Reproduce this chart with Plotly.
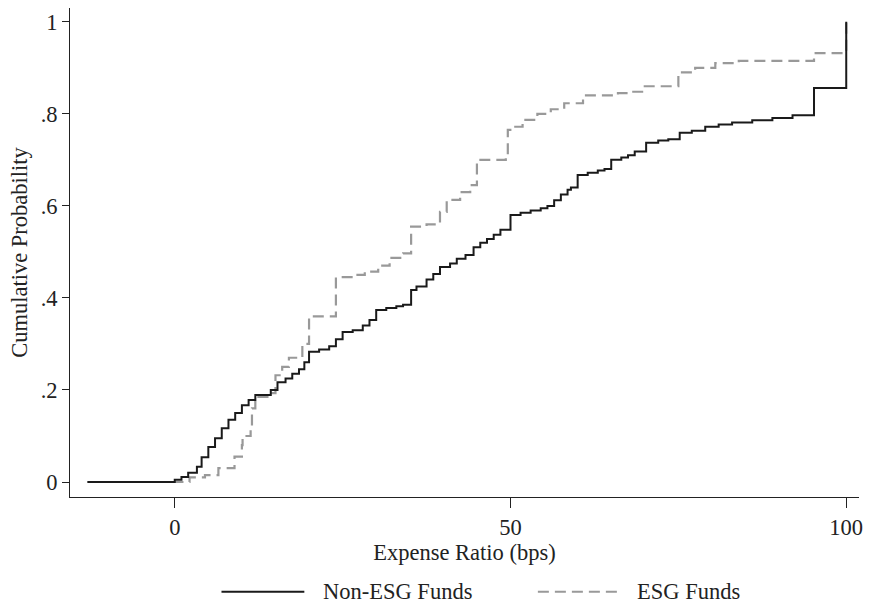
import plotly.graph_objects as go

# Non-ESG funds: empirical CDF step points (expense ratio in bps, cumulative probability)
non_esg_x = [-13, 0, 1.0, 2.0, 3.3, 4.0, 5.0, 6.0, 7.0, 8.0, 9.0, 10.0, 11.0, 12.0, 14.3, 15.3,
             16.5, 17.5, 18.5, 19.3, 20.0, 21.5, 23.0, 24.0, 25.0, 26.5, 28.0, 29.0, 30.0, 31.5,
             33.0, 34.0, 35.2, 36.0, 37.5, 38.5, 39.5, 41.0, 42.0, 43.3, 44.5, 45.5, 46.5, 47.5,
             48.5, 50.0, 51.5, 53.0, 54.5, 55.5, 56.5, 57.5, 58.5, 59.0, 60.0, 61.5, 63.0, 64.0,
             65.0, 66.5, 67.5, 68.5, 70.2, 72.0, 73.5, 75.2, 77.0, 79.0, 81.0, 83.0, 86.0, 89.0,
             92.0, 95.2, 100.0]
non_esg_y = [0, 0.005, 0.011, 0.02, 0.033, 0.054, 0.076, 0.095, 0.117, 0.135, 0.15, 0.167, 0.178,
             0.189, 0.2, 0.217, 0.225, 0.235, 0.245, 0.26, 0.283, 0.288, 0.295, 0.31, 0.326, 0.33,
             0.34, 0.352, 0.374, 0.378, 0.382, 0.385, 0.417, 0.425, 0.44, 0.452, 0.467, 0.475,
             0.485, 0.493, 0.51, 0.52, 0.528, 0.537, 0.548, 0.58, 0.585, 0.59, 0.595, 0.6, 0.612,
             0.625, 0.635, 0.64, 0.667, 0.672, 0.677, 0.68, 0.7, 0.705, 0.71, 0.718, 0.737, 0.742,
             0.745, 0.759, 0.763, 0.772, 0.777, 0.781, 0.786, 0.791, 0.797, 0.856, 1.0]

# ESG funds
esg_x = [-13, 0, 2.2, 4.5, 6.5, 8.9, 10.0, 10.1, 11.3, 11.5, 12.0, 13.8, 15.0, 16.0, 17.0, 19.0,
         20.0, 24.0, 26.5, 28.3, 30.3, 32.0, 34.0, 35.2, 37.5, 39.5, 40.5, 42.5, 44.0, 45.0, 49.3,
         49.6, 50.5, 51.8, 54.0, 56.0, 58.0, 60.8, 66.0, 68.0, 70.0, 75.0, 77.5, 80.5, 84.0, 95.2,
         100.0]
esg_y = [0, 0, 0.01, 0.015, 0.03, 0.055, 0.08, 0.1, 0.115, 0.16, 0.185, 0.193, 0.232, 0.25, 0.27,
         0.3, 0.36, 0.445, 0.45, 0.457, 0.47, 0.487, 0.497, 0.555, 0.56, 0.587, 0.613, 0.63, 0.645,
         0.7, 0.707, 0.765, 0.772, 0.787, 0.8, 0.81, 0.823, 0.84, 0.845, 0.848, 0.86, 0.89, 0.9,
         0.91, 0.915, 0.932, 1.0]

x_ticks = [0, 50, 100]
y_ticks = [0, 0.2, 0.4, 0.6, 0.8, 1.0]
y_tick_labels = ["0", ".2", ".4", ".6", ".8", "1"]
series_names = ["Non-ESG Funds", "ESG Funds"]

FONT = "Liberation Serif, Times New Roman, serif"
FS = 22.5
BLACK = "#1a1a1a"
GRAY = "#999999"
DASH = "11px,6px"

fig = go.Figure()
fig.add_trace(go.Scatter(x=esg_x, y=esg_y, mode="lines", line_shape="hv",
                         line=dict(color=GRAY, width=2.2, dash=DASH), name=series_names[1],
                         showlegend=False))
fig.add_trace(go.Scatter(x=non_esg_x, y=non_esg_y, mode="lines", line_shape="hv",
                         line=dict(color=BLACK, width=2), name=series_names[0],
                         showlegend=False))

fig.update_layout(
    width=871, height=608,
    margin=dict(l=70, r=9, t=8, b=111),
    paper_bgcolor="white", plot_bgcolor="white",
    font=dict(family=FONT, size=FS, color="#222222"),
    showlegend=False,
)
fig.update_xaxes(range=[-15.6, 101.9], tickvals=x_ticks, showline=True, linecolor="#222222",
                 linewidth=1, ticks="outside", ticklen=10, tickcolor="#222222", showgrid=False,
                 zeroline=False,
                 title=dict(text="Expense Ratio (bps)", standoff=2, font=dict(size=FS)))
fig.update_yaxes(range=[-0.0326, 1.03], tickvals=y_ticks, ticktext=y_tick_labels, showline=True,
                 linecolor="#222222", linewidth=1, ticks="outside", ticklen=7,
                 tickcolor="#222222", showgrid=False, zeroline=False,
                 title=dict(text="Cumulative Probability", standoff=6, font=dict(size=FS)))

# manual legend below the plot
leg_y = -0.194
fig.add_shape(type="line", xref="paper", yref="paper", x0=0.192, x1=0.297, y0=leg_y, y1=leg_y,
              line=dict(color=BLACK, width=2))
fig.add_shape(type="line", xref="paper", yref="paper", x0=0.593, x1=0.694, y0=leg_y, y1=leg_y,
              line=dict(color=GRAY, width=2, dash=DASH))
fig.add_annotation(xref="paper", yref="paper", x=0.318, y=leg_y, text=series_names[0],
                   showarrow=False, xanchor="left", yanchor="middle", font=dict(size=FS))
fig.add_annotation(xref="paper", yref="paper", x=0.716, y=leg_y, text=series_names[1],
                   showarrow=False, xanchor="left", yanchor="middle", font=dict(size=FS))

fig.write_html("out.html")
